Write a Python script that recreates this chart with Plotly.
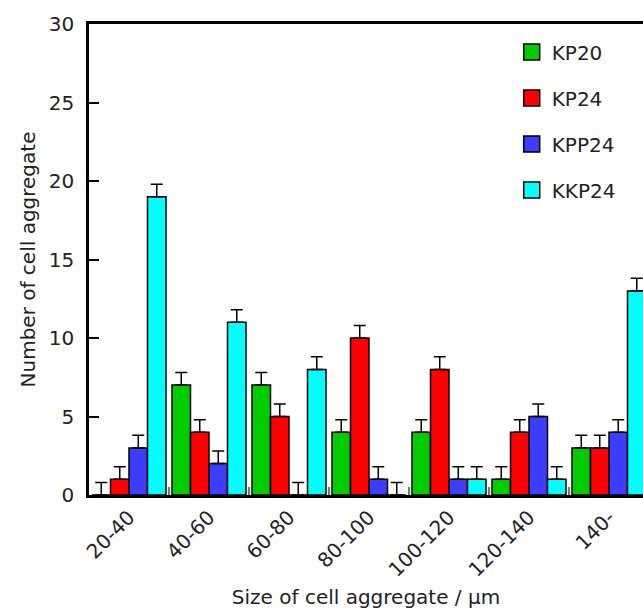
import plotly.graph_objects as go

categories = ["20-40", "40-60", "60-80", "80-100", "100-120", "120-140", "140-"]
series_names = ["KP20", "KP24", "KPP24", "KKP24"]
kp20 = [0, 7, 7, 4, 4, 1, 3]
kp24 = [1, 4, 5, 10, 8, 4, 3]
kpp24 = [3, 2, 0, 1, 1, 5, 4]
kkp24 = [19, 11, 8, 0, 1, 1, 13]
err_kp20 = [0.8] * 7
err_kp24 = [0.8] * 7
err_kpp24 = [0.8] * 7
err_kkp24 = [0.8] * 7
y_ticks = [0, 5, 10, 15, 20, 25, 30]

colors = ["#00cc00", "#ff0000", "#3d3dff", "#00ffff"]
values = [kp20, kp24, kpp24, kkp24]
errors = [err_kp20, err_kp24, err_kpp24, err_kkp24]

FONT = "DejaVu Sans, Liberation Sans, Arial, sans-serif"

fig = go.Figure()
for name, vals, errs, col in zip(series_names, values, errors, colors):
    fig.add_trace(go.Bar(
        x=categories, y=vals, name=name, showlegend=False,
        marker=dict(color=col, line=dict(color="black", width=1.5)),
        error_y=dict(type="data", array=errs, symmetric=False, arrayminus=[0] * len(errs),
                     color="black", thickness=1.5, width=6),
    ))
# legend proxies (larger square swatches)
for i, (name, col) in enumerate(zip(series_names, colors)):
    fig.add_trace(go.Scatter(
        x=[None], y=[None], mode="markers", name=name, legendgroup=name,
        marker=dict(symbol="square", size=24, color=col, line=dict(color="black", width=1.5)),
    ))

fig.update_layout(
    width=643, height=609,
    margin=dict(l=89, r=0, t=24, b=114),
    paper_bgcolor="white", plot_bgcolor="white",
    font=dict(family=FONT, size=20, color="#222"),
    barmode="group", bargap=0.075, bargroupgap=0,
    legend=dict(x=0.763, y=0.982, xanchor="left", yanchor="top",
                bgcolor="rgba(0,0,0,0)", font=dict(size=20, color="#222"),
                itemsizing="trace", traceorder="grouped", tracegroupgap=17),
)
fig.update_xaxes(
    range=[-0.5, 6.425], showline=True, linecolor="black", linewidth=2.5, mirror=True,
    ticks="inside", tickson="boundaries", ticklen=8, tickwidth=2, tickcolor="#777",
    tickangle=-45, tickfont=dict(size=20), automargin=False,
    title=dict(text="Size of cell aggregate / μm", font=dict(size=20), standoff=20),
    showgrid=False, zeroline=False,
)
fig.update_yaxes(
    range=[0, 30], tickvals=y_ticks, showline=True, linecolor="black", linewidth=2.5,
    ticks="inside", ticklen=10, tickwidth=1.5, tickcolor="black",
    tickfont=dict(size=20), ticklabelstandoff=8, automargin=False,
    title=dict(text="Number of cell aggregate", font=dict(size=20), standoff=8),
    showgrid=False, zeroline=False,
)
fig.write_html("out.html", config={"displayModeBar": False},
               post_script="document.body.style.margin='0';document.body.style.overflow='hidden';")
